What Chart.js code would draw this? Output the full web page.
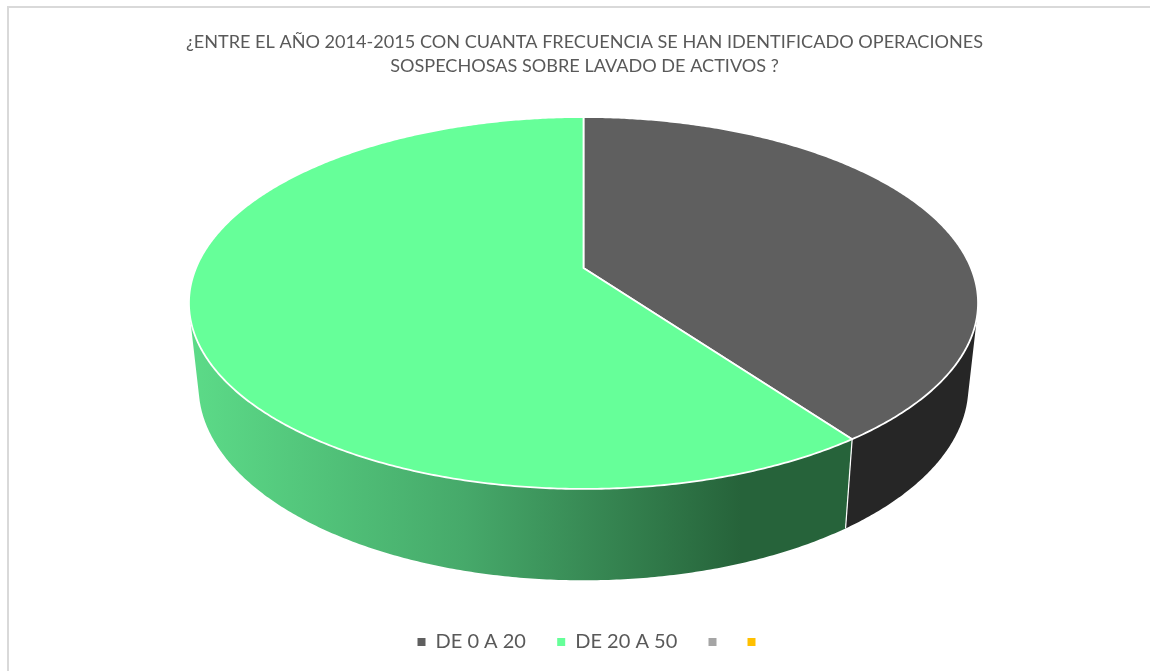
<!DOCTYPE html>
<html lang="es">
<head>
<meta charset="utf-8">
<title>Operaciones sospechosas</title>
<script src="https://cdn.jsdelivr.net/npm/chart.js@4"></script>
<style>
    html, body { margin: 0; padding: 0; background: #ffffff; overflow: hidden; }
    #marco { position: absolute; left: 7px; top: 6px; right: 0; bottom: 0; border-left: 2px solid #d9d9d9; border-top: 2px solid #d9d9d9; }
    #lienzo { position: absolute; left: 0; top: 0; width: 1150px; height: 671px; }
</style>
</head>
<body>
<div id="marco"></div>
<div id="lienzo"><canvas id="grafica" width="1150" height="671"></canvas></div>
<script>
    // DATOS
    const categorias = ['DE 0 A 20', 'DE 20 A 50', '', ''];
    const valores = [40, 60, 0, 0];
    const colores = ['#5f5f5f', '#66ff99', '#a5a5a5', '#ffc000'];
    const tituloLineas = [
        '¿ENTRE EL AÑO 2014-2015 CON CUANTA FRECUENCIA SE HAN IDENTIFICADO OPERACIONES',
        'SOSPECHOSAS SOBRE LAVADO DE ACTIVOS ?'
    ];

    const colorTexto = '#595959';
    const radioBase = 190;

    // Proyección en perspectiva de la tapa y de la base (relativa al radio y centro del arco)
    const tapa = { ax: 2.0395, by: 0.9442, k: 0.1881, dx: -1, dy: -81.6 };
    const base = { ax: 1.9895, by: 0.9842, k: 0.1881, dx: -1, dy: 0.4 };

    function proyectar(arc, forma, ang) {
        const w = 1 - forma.k * Math.sin(ang);
        return {
            x: arc.x + forma.dx + radioBase * forma.ax * Math.cos(ang) / w,
            y: arc.y + forma.dy + radioBase * forma.by * Math.sin(ang) / w
        };
    }

    // Lista de ángulos dentro de una porción, con paso pequeño
    function angulosDe(arc) {
        const lista = [];
        const pasos = Math.max(2, Math.ceil((arc.endAngle - arc.startAngle) * 120));
        for (let i = 0; i <= pasos; i++) {
            lista.push(arc.startAngle + (arc.endAngle - arc.startAngle) * i / pasos);
        }
        return lista;
    }

    function pintarPared(ctx, arc, relleno) {
        // Solo la parte de delante de la porción; cada tramo es un cuadrilátero con el mismo giro
        const frente = angulosDe(arc).filter(a => Math.sin(a) > -0.25);
        ctx.beginPath();
        for (let i = 0; i < frente.length - 1; i++) {
            const cuad = [
                proyectar(arc, tapa, frente[i]),
                proyectar(arc, tapa, frente[i + 1]),
                proyectar(arc, base, frente[i + 1]),
                proyectar(arc, base, frente[i])
            ];
            let area = 0;
            cuad.forEach((p, j) => {
                const q = cuad[(j + 1) % 4];
                area += p.x * q.y - q.x * p.y;
            });
            if (area < 0) cuad.reverse();
            cuad.forEach((p, j) => {
                if (j === 0) ctx.moveTo(p.x, p.y); else ctx.lineTo(p.x, p.y);
            });
            ctx.closePath();
        }
        ctx.fillStyle = relleno;
        ctx.fill();
    }

    function pintarTapa(ctx, arc) {
        ctx.beginPath();
        ctx.moveTo(arc.x + tapa.dx, arc.y + tapa.dy);
        angulosDe(arc).forEach(a => {
            const p = proyectar(arc, tapa, a);
            ctx.lineTo(p.x, p.y);
        });
        ctx.closePath();
        ctx.fillStyle = arc.options.backgroundColor;
        ctx.fill();
        ctx.lineWidth = arc.options.borderWidth;
        ctx.strokeStyle = arc.options.borderColor;
        ctx.lineJoin = 'round';
        ctx.stroke();
    }

    // Plugin: dibuja los arcos del pastel en 3D usando los ángulos que calcula Chart.js
    const pastel3d = {
        id: 'pastel3d',
        afterLayout(chart) {
            // La leyenda va un poco a la derecha del título
            chart.legend.left += 7;
            chart.legend.right += 7;
        },
        beforeDatasetsDraw(chart) {
            const ctx = chart.ctx;
            const arcos = chart.getDatasetMeta(0).data.filter(a => a.endAngle > a.startAngle);

            const degradado = ctx.createLinearGradient(190, 0, 741, 0);
            degradado.addColorStop(0, '#5cdb88');
            degradado.addColorStop(0.5, '#46a96a');
            degradado.addColorStop(1, '#26633a');
            const paredes = [ '#262626', degradado ];

            ctx.save();
            arcos.forEach((arc, i) => pintarPared(ctx, arc, paredes[i]));

            // Línea blanca de unión entre las dos paredes
            const arcoUnion = arcos[0];
            const arriba = proyectar(arcoUnion, tapa, arcoUnion.endAngle);
            const abajo = proyectar(arcoUnion, base, arcoUnion.endAngle);
            ctx.beginPath();
            ctx.moveTo(arriba.x, arriba.y);
            ctx.lineTo(abajo.x, abajo.y);
            ctx.strokeStyle = '#ffffff';
            ctx.lineWidth = 1.2;
            ctx.stroke();

            arcos.forEach(arc => pintarTapa(ctx, arc));
            ctx.restore();
            return false;
        }
    };

    new Chart(document.getElementById('grafica'), {
        type: 'pie',
        data: {
            labels: categorias,
            datasets: [{
                data: valores,
                backgroundColor: colores,
                borderColor: '#ffffff',
                borderWidth: 1.8,
                radius: radioBase
            }]
        },
        options: {
            responsive: false,
            animation: false,
            layout: { padding: { left: 19, top: 30, bottom: 9 } },
            plugins: {
                title: {
                    display: true,
                    text: tituloLineas,
                    color: colorTexto,
                    font: { family: 'Lato', size: 18.1, weight: 'normal', lineHeight: 1.33 },
                    padding: { top: 0, bottom: 10 }
                },
                legend: {
                    position: 'bottom',
                    labels: {
                        color: colorTexto,
                        font: { family: 'Lato', size: 20 },
                        boxWidth: 8,
                        boxHeight: 8,
                        padding: 21,
                        generateLabels(chart) {
                            const items = Chart.overrides.pie.plugins.legend.labels.generateLabels(chart);
                            items.forEach(it => { if (it.text) it.text += '\u00a0\u00a0'; it.lineWidth = 0; });
                            return items;
                        }
                    }
                },
                tooltip: { enabled: false }
            }
        },
        plugins: [pastel3d]
    });
</script>
</body>
</html>
